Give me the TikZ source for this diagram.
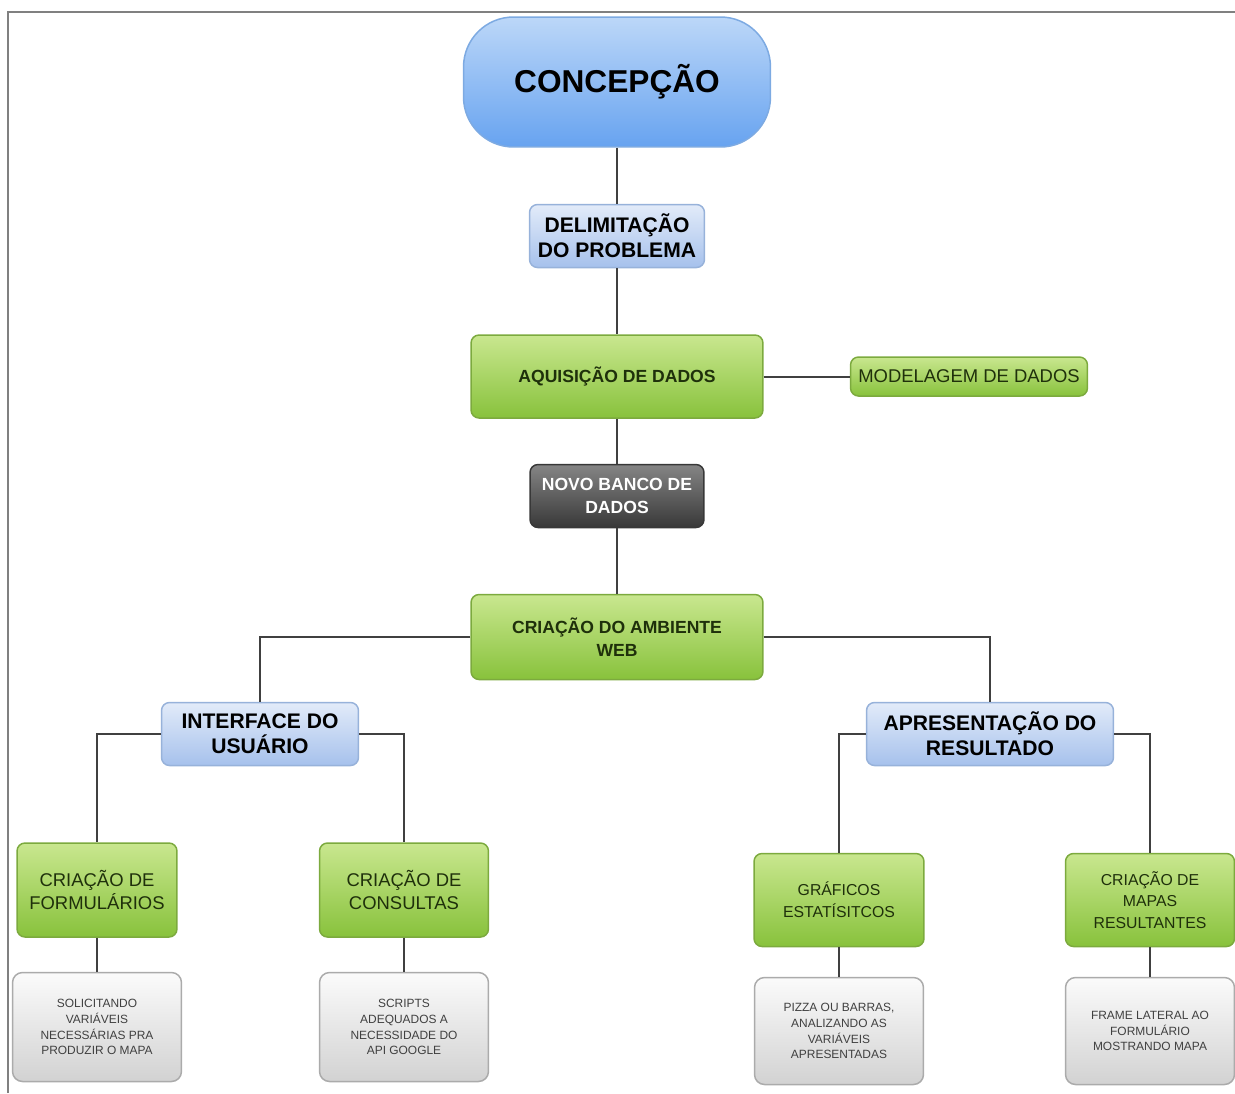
\documentclass[tikz,border=0pt]{standalone}
\usepackage{fontspec}
\setmainfont{Liberation Sans}
\usetikzlibrary{positioning}

\definecolor{linegray}{HTML}{404040}
\definecolor{framegray}{HTML}{808080}
\definecolor{bigtop}{HTML}{BCD7F8}
\definecolor{bigbot}{HTML}{67A3F0}
\definecolor{bigline}{HTML}{7DAAE2}
\definecolor{bluetop}{HTML}{E2EBF9}
\definecolor{bluebot}{HTML}{A6C1EC}
\definecolor{blueline}{HTML}{97B2DA}
\definecolor{greentop}{HTML}{C9E78F}
\definecolor{greenbot}{HTML}{88C23C}
\definecolor{greenline}{HTML}{7CAA3E}
\definecolor{greentext}{HTML}{1F300B}
\definecolor{darktop}{HTML}{858585}
\definecolor{darkbot}{HTML}{383838}
\definecolor{graytop}{HTML}{FBFBFB}
\definecolor{graybot}{HTML}{D2D2D2}
\definecolor{grayline}{HTML}{ABABAB}

\begin{document}
\begin{tikzpicture}[x=0.02cm,y=-0.02cm]
\tikzstyle{link}=[draw=linegray,line width=0.04cm]
\tikzstyle{bigblue}=[draw=bigline,line width=0.03cm,top color=bigtop,
  bottom color=bigbot,rounded corners=1cm,inner sep=0pt,
  minimum width=6.14cm,minimum height=2.6cm,
  font=\bfseries\fontsize{18}{21}\selectfont]
\tikzstyle{bluebox}=[draw=blueline,line width=0.03cm,top color=bluetop,
  bottom color=bluebot,rounded corners=0.16cm,inner sep=0pt,align=center,
  font=\bfseries\fontsize{12}{14.2}\selectfont]
\tikzstyle{greenbox}=[draw=greenline,line width=0.03cm,top color=greentop,
  bottom color=greenbot,rounded corners=0.16cm,inner sep=0pt,align=center,
  text=greentext]
\tikzstyle{darkbox}=[draw=darkbot,line width=0.03cm,top color=darktop,
  bottom color=darkbot,rounded corners=0.16cm,inner sep=0pt,align=center,
  text=white,font=\bfseries\fontsize{10}{13}\selectfont]
\tikzstyle{graybox}=[draw=grayline,line width=0.03cm,top color=graytop,
  bottom color=graybot,rounded corners=0.2cm,inner sep=0pt,align=center,
  minimum width=3.38cm,text=linegray,font=\fontsize{6.8}{9}\selectfont]

\useasboundingbox (0,0) rectangle (1235,1093);

%frame of the page
\draw[draw=framegray,line width=0.04cm] (8,1093) -- (8,12) -- (1235,12);

%trunk of the diagram
\node[bigblue] (concepcao) at (617,82) {CONCEPÇÃO};
\node[bluebox,minimum width=3.5cm,minimum height=1.26cm]
  (delim) at (617,236) {DELIMITAÇÃO\\DO PROBLEMA};
\node[greenbox,minimum width=5.84cm,minimum height=1.66cm,
  font=\bfseries\fontsize{10}{13}\selectfont]
  (aquis) at (617,376.5) {AQUISIÇÃO DE DADOS};
\node[greenbox,minimum width=4.74cm,minimum height=0.78cm,
  font=\fontsize{10.5}{13}\selectfont]
  (modelagem) at (969,376.5) {MODELAGEM DE DADOS};
\node[darkbox,minimum width=3.48cm,minimum height=1.26cm]
  (banco) at (617,496) {NOVO BANCO DE\\DADOS};
\node[greenbox,minimum width=5.84cm,minimum height=1.7cm,
  font=\bfseries\fontsize{10}{13}\selectfont]
  (web) at (617,637) {CRIAÇÃO DO AMBIENTE\\WEB};

%two branches
\node[bluebox,minimum width=3.94cm,minimum height=1.26cm]
  (interface) at (260,734) {INTERFACE DO\\USUÁRIO};
\node[bluebox,minimum width=4.94cm,minimum height=1.26cm]
  (apres) at (990,734) {APRESENTAÇÃO DO\\RESULTADO};

%leaves of the user interface
\node[greenbox,minimum width=3.2cm,minimum height=1.88cm,
  font=\fontsize{10.5}{13}\selectfont]
  (form) at (97,890) {CRIAÇÃO DE\\FORMULÁRIOS};
\node[greenbox,minimum width=3.38cm,minimum height=1.88cm,
  font=\fontsize{10.5}{13}\selectfont]
  (consultas) at (404,890) {CRIAÇÃO DE\\CONSULTAS};
\node[graybox,minimum height=2.18cm] (solic) at (97,1027)
  {SOLICITANDO\\VARIÁVEIS\\NECESSÁRIAS PRA\\PRODUZIR O MAPA};
\node[graybox,minimum height=2.18cm] (scripts) at (404,1027)
  {SCRIPTS\\ADEQUADOS A\\NECESSIDADE DO\\API GOOGLE};

%leaves of the result
\node[greenbox,minimum width=3.4cm,minimum height=1.86cm,
  font=\fontsize{9}{12.5}\selectfont]
  (graficos) at (839,900) {GRÁFICOS\\ESTATÍSITCOS};
\node[greenbox,minimum width=3.38cm,minimum height=1.86cm,
  font=\fontsize{9}{12.2}\selectfont]
  (mapas) at (1150,900) {CRIAÇÃO DE\\MAPAS\\RESULTANTES};
\node[graybox,minimum height=2.14cm] (pizza) at (839,1031)
  {PIZZA OU BARRAS,\\ANALIZANDO AS\\VARIÁVEIS\\APRESENTADAS};
\node[graybox,minimum height=2.14cm] (frame) at (1150,1031)
  {FRAME LATERAL AO\\FORMULÁRIO\\MOSTRANDO MAPA};

%connectors
\draw[link] (concepcao) -- (delim);
\draw[link] (delim) -- (aquis);
\draw[link] (aquis) -- (modelagem);
\draw[link] (aquis) -- (banco);
\draw[link] (banco) -- (web);
\draw[link] (web.west) -| (interface.north);
\draw[link] (web.east) -| (apres.north);
\draw[link] (interface.west) -| (form.north);
\draw[link] (interface.east) -| (consultas.north);
\draw[link] (apres.west) -| (graficos.north);
\draw[link] (apres.east) -| (mapas.north);
\draw[link] (form) -- (solic);
\draw[link] (consultas) -- (scripts);
\draw[link] (graficos) -- (pizza);
\draw[link] (mapas) -- (frame);

\end{tikzpicture}
\end{document}
